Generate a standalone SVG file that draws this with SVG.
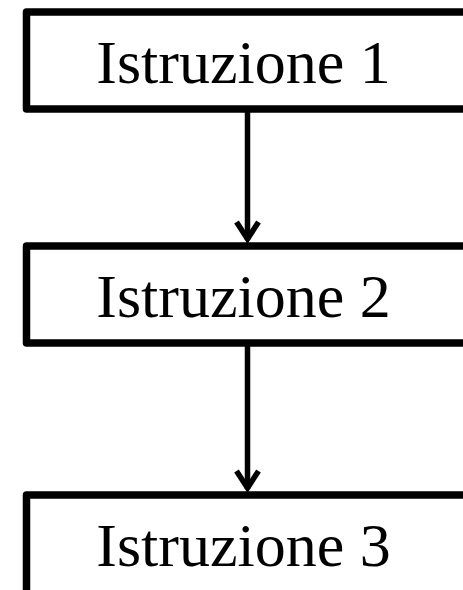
<svg xmlns="http://www.w3.org/2000/svg" width="463" height="590" viewBox="0 0 463 590">
  <style>
    .box { fill: #ffffff; stroke: #000000; stroke-width: 7.5; stroke-linejoin: round; }
    .label { font-family: "Liberation Serif", "Times New Roman", serif; font-size: 62px; fill: #000000; text-anchor: middle; }
    .wire { fill: none; stroke: #000000; stroke-width: 5.5; }
    .head { fill: none; stroke: #000000; stroke-width: 5.5; stroke-linejoin: miter; }
  </style>
  <rect width="463" height="590" fill="#ffffff"/>

  <!-- vertical flow arrows with open V heads -->
  <g id="connectors">
    <line class="wire" x1="247.5" y1="112" x2="247.5" y2="240"/>
    <polyline class="head" points="236.5,222 247.5,239 258.5,222"/>
    <line class="wire" x1="247.5" y1="346" x2="247.5" y2="489"/>
    <polyline class="head" points="236.5,471 247.5,488 258.5,471"/>
  </g>

  <g id="istruzione1">
    <rect class="box" x="26.5" y="12" width="460" height="97"/>
    <text class="label" x="243.5" y="83">Istruzione 1</text>
  </g>

  <g id="istruzione2">
    <rect class="box" x="26.5" y="246" width="460" height="97"/>
    <text class="label" x="243.5" y="317">Istruzione 2</text>
  </g>

  <g id="istruzione3">
    <rect class="box" x="26.5" y="495" width="460" height="120"/>
    <text class="label" x="243.5" y="566">Istruzione 3</text>
  </g>
</svg>
